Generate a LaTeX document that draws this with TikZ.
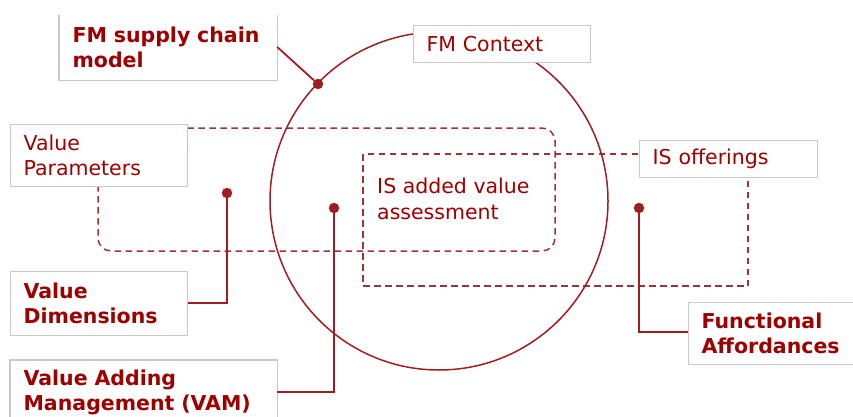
\documentclass[tikz,border=0pt]{standalone}
\usepackage{fontspec}
\setmainfont{DejaVu Sans}
\definecolor{txtred}{HTML}{9E0000}
\definecolor{linered}{HTML}{A01E22}
\definecolor{dashred}{HTML}{9C3337}
\definecolor{boxgray}{HTML}{C8C8C8}
\begin{document}
\begin{tikzpicture}[x=1pt,y=-1pt,
  lbl/.style={fill=white,draw=boxgray,line width=1.2pt,text=txtred,
    font=\fontsize{20.5}{25.5}\selectfont,align=left,inner xsep=13pt,inner ysep=0pt,
    anchor=north west},
  blbl/.style={lbl,font=\fontsize{20.5}{25.5}\selectfont\bfseries},
  openbox/.style={draw=none},
  conn/.style={draw=linered,line width=1.8pt},
  dashline/.style={draw=dashred,line width=1.5pt,dash pattern=on 6.5pt off 4.5pt},
  dotm/.style={circle,fill=linered,inner sep=0pt,minimum size=10.5pt}]
\useasboundingbox (0,0) rectangle (853,417);
% dashed regions
\draw[dashline,rounded corners=13pt] (98,128) rectangle (555,251);
\draw[dashline] (363,154) rectangle (748,286);
% circle
\draw[draw=linered,line width=1.5pt] (439,201) circle (169);
% dots
\node[dotm] (d1) at (318,84) {};
\node[dotm] (d2) at (227,193) {};
\node[dotm] (d3) at (334,208) {};
\node[dotm] (d4) at (639,208) {};
% boxes
\node[blbl,minimum width=217pt,minimum height=64pt,text width=191pt,openbox] (sc) at (59,15) {FM supply chain\\model};
\draw[draw=boxgray,line width=1.2pt] (sc.north west) -- (sc.south west) -- (sc.south east) -- (sc.north east);
\node[lbl,minimum width=177pt,minimum height=37pt,text width=151pt] (ctx) at (413,25) {FM Context};
\node[lbl,minimum width=177pt,minimum height=62pt,text width=151pt] (vp) at (10,124) {Value\\Parameters};
\node[lbl,minimum width=178pt,minimum height=37pt,text width=152pt] (iso) at (639,140) {IS offerings};
\node[blbl,minimum width=177pt,minimum height=64pt,text width=151pt] (vd) at (10,271) {Value\\Dimensions};
\node[blbl,minimum width=266pt,minimum height=64pt,text width=240pt,openbox] (vam) at (10,360) {Value Adding\\Management (VAM)};
\draw[draw=boxgray,line width=1.2pt] (vam.south west) ++(0,10) -- (vam.north west) -- (vam.north east) -- ++(0,70);
\node[blbl,minimum width=175pt,minimum height=62pt,text width=149pt] (fa) at (688,302) {Functional\\Affordances};
\node[text=txtred,font=\fontsize{20.5}{25.5}\selectfont,align=left,anchor=north west,inner sep=0pt] (isav) at (377,178) {IS added value\\assessment};
% connectors
\draw[conn] (sc.east |- 0,47) -- (d1);
\draw[conn] (d2) |- (vd.east |- 0,303);
\draw[conn] (d3) |- (vam.east |- 0,392);
\draw[conn] (d4) |- (fa.west |- 0,332);
\end{tikzpicture}
\end{document}
